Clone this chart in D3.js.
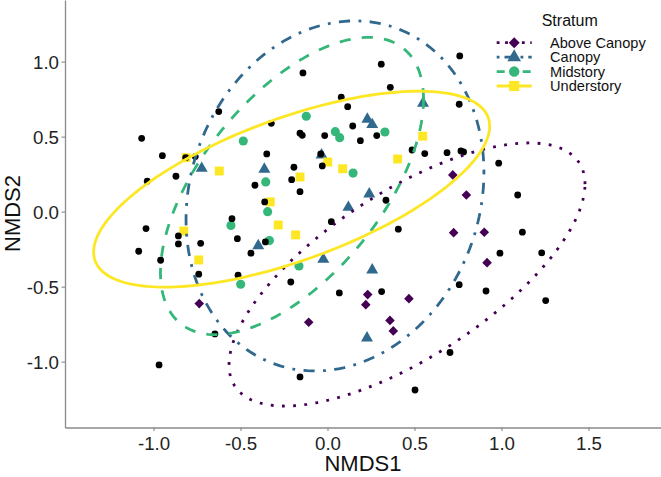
<!DOCTYPE html>
<html><head><meta charset="utf-8">
<script src="https://cdn.jsdelivr.net/npm/d3@7"></script>
<style>body{margin:0;background:#fff}svg{display:block;font-family:"Liberation Sans",Arial,sans-serif}</style>
</head><body><svg id="c" width="661" height="477"></svg>
<script>
// ---- data ----
const strata = ["Above Canopy","Canopy","Midstory","Understory"];
const strataColors = ["#440154","#31688E","#35B779","#FDE725"];
const strataDash = ["2.8 8.4","2.8 8.4 11.2 8.4","11.2 11.2",null];

const siteX = [-1.068,-0.949,-0.815,-0.760,-1.036,-0.871,-0.625,-0.323,-0.349,-0.417,-0.361,-0.549,-1.043,-0.857,-0.857,-0.729,-0.518,-0.357,0.361,0.079,0.116,0.757,-0.158,-0.145,-0.016,0.145,0.189,0.283,-0.039,-0.030,-0.193,-0.206,-0.158,0.486,0.559,0.687,0.767,0.782,0.984,0.336,0.022,0.407,-1.085,-0.959,-0.740,-0.440,-0.514,-0.647,-0.968,-0.211,0.068,0.311,0.757,0.911,0.991,0.704,-0.158,0.503,1.093,1.120,1.231,1.254,-0.141,0.309,0.760];
const siteY = [0.489,0.373,0.360,0.367,0.203,0.236,0.667,0.589,0.385,0.176,0.065,-0.047,-0.113,-0.162,-0.215,-0.211,-0.180,-0.202,0.829,0.763,0.700,0.716,0.523,0.509,0.507,0.571,0.473,0.507,0.385,0.305,0.296,0.213,0.133,0.411,0.387,0.393,0.405,0.398,0.323,0.076,-0.067,-0.117,-0.264,-0.324,-0.417,-0.277,-0.424,-0.815,-1.022,-0.469,-0.542,-0.533,-0.487,-0.529,-0.277,-0.939,-1.102,-1.189,0.111,-0.137,-0.275,-0.593,0.925,0.983,1.038];

const aboveX = [0.720,0.798,0.725,0.901,0.917,0.231,0.220,0.468,-0.108,0.359,0.378,-0.737];
const aboveY = [0.245,0.111,-0.140,-0.137,-0.340,-0.553,-0.620,-0.580,-0.737,-0.725,-0.795,-0.613];
const canopyX = [-0.723,-0.363,-0.398,0.549,0.229,0.257,-0.034,0.240,0.120,-0.024,0.257,0.227];
const canopyY = [0.289,0.283,-0.227,0.723,0.616,0.580,0.378,0.118,0.029,-0.317,-0.389,-0.842];
const midX = [-0.484,-0.355,-0.344,-0.555,-0.334,-0.122,0.045,0.070,0.330,0.147,-0.164,-0.499];
const midY = [0.471,0.198,0.000,-0.092,-0.193,0.636,0.533,0.493,0.531,0.257,-0.362,-0.484];
const underX = [-0.813,-0.622,-0.329,-0.283,-0.826,0.547,0.403,0.001,0.087,-0.158,-0.183,-0.740];
const underY = [0.360,0.271,0.065,-0.089,-0.129,0.503,0.351,0.331,0.286,0.231,-0.155,-0.322];

// ellipse parameters per stratum: centre, half x-extent, half y-extent, correlation
const ellCX = [0.457,0.043,-0.204,-0.206];
const ellCY = [-0.419,0.105,0.171,0.150];
const ellRX = [1.023,0.856,0.756,1.138];
const ellRY = [0.877,1.167,0.991,0.653];
const ellRho = [0.687,0.134,0.583,0.642];

const xTicks = [-1.0,-0.5,0.0,0.5,1.0,1.5];
const yTicks = [-1.0,-0.5,0.0,0.5,1.0];

// ---- drawing ----
const svg = d3.select("#c");
const x = d3.scaleLinear().domain([-1.5086,1.9167]).range([65,661]);
const y = d3.scaleLinear().domain([-1.439,1.411]).range([427.5,0]);

const groupsX = [aboveX,canopyX,midX,underX];
const groupsY = [aboveY,canopyY,midY,underY];
const shapes = [d3.symbolSquare,d3.symbolTriangle,d3.symbolCircle,d3.symbolSquare];
const sizes = [46,62,66,80];
const rot = [45,0,0,0];

// coloured group points
groupsX.forEach((gx,gi)=>{
  const gy = groupsY[gi];
  svg.append("g").selectAll("path").data(gx.map((v,i)=>[v,gy[i]])).join("path")
    .attr("d", d3.symbol().type(shapes[gi]).size(sizes[gi]))
    .attr("transform", d=>`translate(${x(d[0])},${y(d[1])}) rotate(${rot[gi]})`)
    .attr("fill", strataColors[gi]);
});
// black site points
svg.append("g").selectAll("circle").data(siteX.map((v,i)=>[v,siteY[i]])).join("circle")
  .attr("cx",d=>x(d[0])).attr("cy",d=>y(d[1])).attr("r",3.4).attr("fill","#000");

// ellipses
const line = d3.line().x(d=>x(d[0])).y(d=>y(d[1]));
strata.forEach((s,i)=>{
  const pts = d3.range(0,201).map(k=>{
    const t = k/200*2*Math.PI;
    return [ellCX[i]+ellRX[i]*Math.cos(t),
            ellCY[i]+ellRY[i]*(ellRho[i]*Math.cos(t)+Math.sqrt(1-ellRho[i]*ellRho[i])*Math.sin(t))];
  });
  const p = svg.append("path").attr("d",line(pts)).attr("fill","none")
    .attr("stroke",strataColors[i]).attr("stroke-width",2.8);
  if(strataDash[i]) p.attr("stroke-dasharray",strataDash[i]);
});

// axes
const axCol = "#8a8a8a";
const gx = svg.append("g").attr("transform","translate(0,427.5)")
  .call(d3.axisBottom(x).tickValues(xTicks).tickSize(3.5).tickSizeOuter(0).tickFormat(d=>d.toFixed(1)));
const gy = svg.append("g").attr("transform","translate(65,0)")
  .call(d3.axisLeft(y).tickValues(yTicks).tickSize(3.5).tickSizeOuter(0).tickFormat(d=>d.toFixed(1)));
[gx,gy].forEach(g=>{
  g.select(".domain").attr("stroke",axCol).attr("stroke-width",1.3);
  g.selectAll(".tick line").attr("stroke",axCol).attr("stroke-width",1.1);
  g.selectAll("text").attr("fill","#222").style("font-size","18.7px").style("font-family","Liberation Sans, Arial, sans-serif");
});
gx.selectAll("text").attr("dy",null).attr("y",22);
gy.selectAll("text").attr("x",-6).attr("dy","0.35em");

svg.append("text").attr("x",363).attr("y",471).attr("text-anchor","middle")
  .style("font-size","22px").attr("fill","#111").text("NMDS1");
svg.append("text").attr("transform","translate(20,213.5) rotate(-90)").attr("text-anchor","middle")
  .style("font-size","22px").attr("fill","#111").text("NMDS2");

// legend
const lg = svg.append("g");
lg.append("text").attr("x",541.7).attr("y",26).style("font-size","16px").attr("fill","#111").text("Stratum");
const keyY = [42.7,57.2,71.6,86];
strata.forEach((s,i)=>{
  const l = lg.append("line").attr("x1",496.7).attr("x2",531.7).attr("y1",keyY[i]).attr("y2",keyY[i])
    .attr("stroke",strataColors[i]).attr("stroke-width",2.8);
  if(strataDash[i]) l.attr("stroke-dasharray", i===0?"2.8 5.6":i===1?"2.8 5 11 5":"8 5");
  lg.append("path").attr("d",d3.symbol().type(shapes[i]).size(sizes[i]*1.3))
    .attr("transform",`translate(514.2,${keyY[i]}) rotate(${rot[i]})`).attr("fill",strataColors[i]);
  lg.append("text").attr("x",550).attr("y",keyY[i]).attr("dy","0.36em")
    .style("font-size","14.6px").attr("fill","#111").text(s);
});
</script></body></html>
